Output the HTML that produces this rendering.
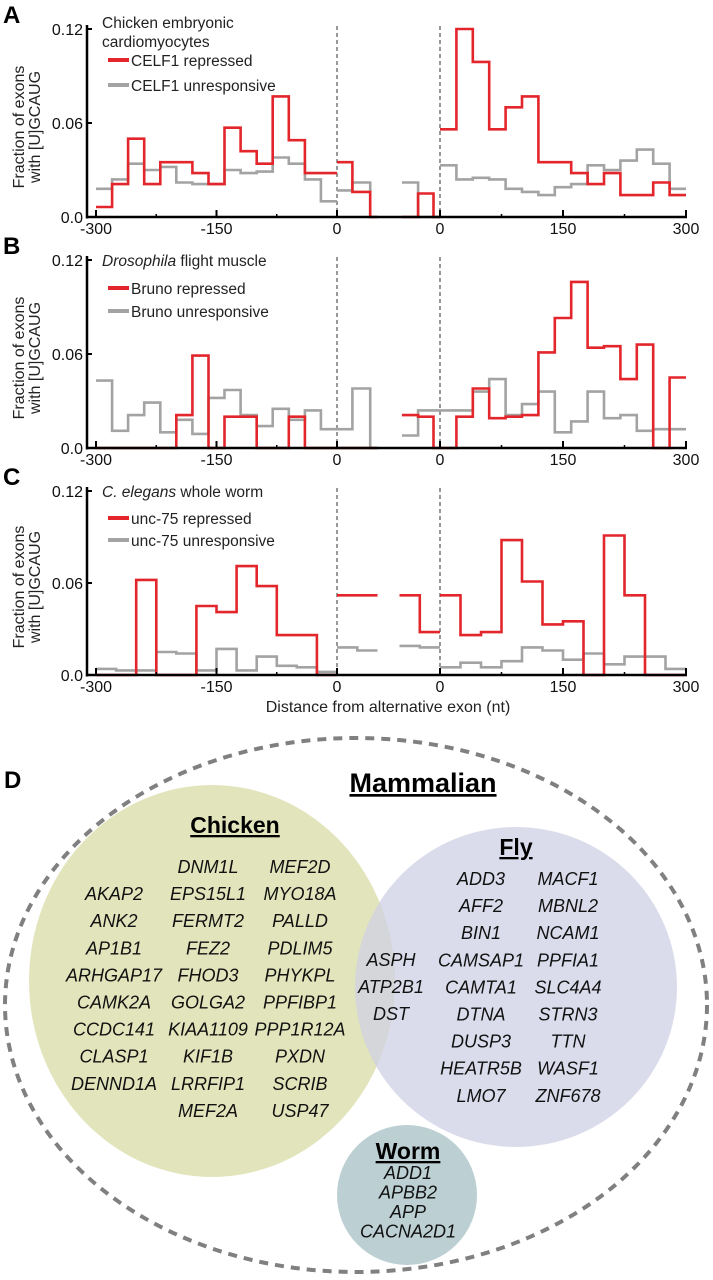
<!DOCTYPE html>
<html><head><meta charset="utf-8">
<style>
html,body{margin:0;padding:0;background:#fff;}
svg{display:block;font-family:"Liberation Sans",Arial,sans-serif;}
.tick{font-size:16px;fill:#111;}
.gene{font-size:18px;font-style:italic;fill:#111;}
.wgene{font-size:18px;font-style:italic;fill:#111;}
</style></head>
<body>
<svg id="fig" width="713" height="1280" viewBox="0 0 713 1280">
<g id="charts"></g>
<g id="venn">
  <ellipse cx="356" cy="1005" rx="351" ry="267" fill="none" stroke="#808080" stroke-width="4" stroke-dasharray="9,7"/>
  <ellipse cx="212" cy="981" rx="183" ry="196" fill="#dfe2b4" fill-opacity="0.9"/>
  <ellipse cx="516" cy="987" rx="161" ry="160" fill="#cfd0e4" fill-opacity="0.75"/>
  <ellipse cx="407" cy="1195" rx="70" ry="70" fill="#bccfd3"/>
  <text x="4" y="788" font-size="24" font-weight="bold">D</text>
  <text x="423" y="792" font-size="27" font-weight="bold" text-anchor="middle" text-decoration="underline">Mammalian</text>
  <text x="235" y="833" font-size="23" font-weight="bold" text-anchor="middle" text-decoration="underline">Chicken</text>
  <text x="516" y="855" font-size="23" font-weight="bold" text-anchor="middle" text-decoration="underline">Fly</text>
  <text x="408" y="1159" font-size="23" font-weight="bold" text-anchor="middle" text-decoration="underline">Worm</text>
  <g id="genes"></g>
</g>
</svg>
<script>
// ---------- chart data ----------
const edges20L = [-300,-280,-260,-240,-220,-200,-180,-160,-140,-120,-100,-80,-60,-40,-20,0];
const edges20R = [0,20,40,60,80,100,120,140,160,180,200,220,240,260,280,300];
const edges25L = [-300,-275,-250,-225,-200,-175,-150,-125,-100,-75,-50,-25,0];
const edges25R = [0,25,50,75,100,125,150,175,200,225,250,275,300];
const midLEdgesAB = [0,19,41,50];
const midREdgesAB = [-47,-27,-8,0];
const midLEdgesC = [0,25,50];
const midREdgesC = [-50,-25,0];
const yTicks = [0.0,0.06,0.12];
const yTickLabels = ["0.0","0.06","0.12"];
const xTicks = [-300,-150,0];
const xTicksR = [0,150,300];
const xTickLabels = ["-300","-150","0"];
const xTickLabelsR = ["0","150","300"];

const aRedL  = [0.0064,0.021,0.050,0.021,0.035,0.035,0.028,0.021,0.057,0.042,0.034,0.077,0.049,0.028,0.028];
const aGreyL = [0.018,0.024,0.034,0.030,0.032,0.022,0.021,0.021,0.030,0.028,0.029,0.038,0.034,0.024,0.010];
const aRedML = [0.035,0.016,0];
const aGreyML= [0.017,0.022,0];
const aRedMR = [0,0.015,0];
const aGreyMR= [0.022,0,0];
const aRedR  = [0.056,0.120,0.099,0.056,0.070,0.077,0.035,0.035,0.028,0.021,0.028,0.014,0.014,0.022,0.014];
const aGreyR = [0.033,0.024,0.025,0.024,0.018,0.016,0.014,0.019,0.021,0.033,0.030,0.036,0.043,0.034,0.018];

const bRedL  = [0,0,0,0,0,0.021,0.059,0,0.020,0.020,0,0,0.020,0,0];
const bGreyL = [0.043,0.011,0.021,0.029,0.010,0.018,0.009,0.032,0.037,0.021,0.014,0.025,0.018,0.024,0.012];
const bRedML = [0,0,0];
const bGreyML= [0.012,0.038,0];
const bRedMR = [0.021,0.020,0];
const bGreyMR= [0.008,0.024,0.024];
const bRedR  = [0,0.020,0.038,0.019,0.020,0.021,0.061,0.083,0.106,0.064,0.065,0.044,0.066,0,0.045];
const bGreyR = [0.024,0.024,0.036,0.044,0.021,0.028,0.036,0.010,0.017,0.036,0.019,0.021,0.011,0.012,0.012];

const cRedL  = [0,0,0.062,0,0,0.045,0.041,0.071,0.058,0.026,0.026,0];
const cGreyL = [0.004,0.003,0.003,0.015,0.014,0.003,0.017,0.003,0.012,0.006,0.005,0.002];
const cRedML = [0.052,0.052];
const cGreyML= [0.018,0.016];
const cRedMR = [0.052,0.028];
const cGreyMR= [0.019,0.018];
const cRedR  = [0.052,0.026,0.028,0.088,0.061,0.033,0.035,0,0.091,0.052,0,0];
const cGreyR = [0.005,0.008,0.005,0.009,0.018,0.016,0.010,0.014,0.007,0.012,0.012,0.004];

const NS = "http://www.w3.org/2000/svg";
const RED = "#e3262b", GREY = "#a3a3a3";
const root = document.getElementById('charts');
function mk(tag, attrs, parent){
  const e = document.createElementNS(NS, tag);
  for (const k in attrs) e.setAttribute(k, attrs[k]);
  (parent||root).appendChild(e);
  return e;
}
const YAX=87, X0=96, XL0=337, XR0=440, X1=686;
const xLeft = v => XL0 + v*(XL0-X0)/300;
const xMidL = v => XL0 + v*0.81;
const xMidR = v => XR0 + v*0.81;
const xRight = v => XR0 + v*(X1-XR0)/300;

function stepPath(edges, vals, xf, yf){
  let d = "", prev = null;
  for (let i=0;i<vals.length;i++){
    const v = vals[i];
    if (v===null){ prev=null; continue; }
    const xa = xf(edges[i]), xb = xf(edges[i+1]), y = yf(v);
    d += (prev===null ? "M" : "L")+xa.toFixed(1)+","+y.toFixed(1);
    d += "L"+xb.toFixed(1)+","+y.toFixed(1);
    prev = v;
  }
  return d;
}

const panels = [
  {key:'a', label:'A', y0:217, y12:29, e:[edges20L,midLEdgesAB,midREdgesAB,edges20R],
   red:[aRedL,aRedML,aRedMR,aRedR], grey:[aGreyL,aGreyML,aGreyMR,aGreyR],
   title:['Chicken embryonic','cardiomyocytes'], leg:['CELF1 repressed','CELF1 unresponsive'], titleY:28, legY:[60,85]},
  {key:'b', label:'B', y0:448, y12:260, e:[edges20L,midLEdgesAB,midREdgesAB,edges20R],
   red:[bRedL,bRedML,bRedMR,bRedR], grey:[bGreyL,bGreyML,bGreyMR,bGreyR],
   title:['<tspan font-style="italic">Drosophila</tspan> flight muscle'], leg:['Bruno repressed','Bruno unresponsive'], titleY:266, legY:[288,311]},
  {key:'c', label:'C', y0:675, y12:491, e:[edges25L,midLEdgesC,midREdgesC,edges25R],
   red:[cRedL,cRedML,cRedMR,cRedR], grey:[cGreyL,cGreyML,cGreyMR,cGreyR],
   title:['<tspan font-style="italic">C. elegans</tspan> whole worm'], leg:['unc-75 repressed','unc-75 unresponsive'], titleY:497, legY:[518,540]}
];
const xfs = [xLeft,xMidL,xMidR,xRight];

panels.forEach(p=>{
  const g = mk('g',{});
  
  
  const yf = v => p.y0 - v*(p.y0-p.y12)/0.12;
  const L = mk('text',{x:3,y:p.y12-6,'font-size':24,'font-weight':'bold'},g);
  L.textContent = p.label;
  
  
  const cy = (p.y0+p.y12)/2 + 4;
  const yt = mk('text',{transform:'translate(24,'+cy+') rotate(-90)','text-anchor':'middle','font-size':16,fill:'#222'},g);
  yt.innerHTML = '<tspan x="0" dy="0">Fraction of  exons</tspan><tspan x="0" dy="16">with [U]GCAUG</tspan>';
  
  
  [XL0,XR0].forEach(xx=>{
    const dl = mk('line',{x1:xx,x2:xx,y1:p.y12-3,y2:p.y0,stroke:'#333','stroke-width':1,'stroke-dasharray':'4,3'},g);
    
    
  });
  for (let s=0;s<4;s++){
    const gp = mk('path',{d:stepPath(p.e[s],p.grey[s],xfs[s],yf),fill:'none',stroke:GREY,'stroke-width':2.6},g);
    
    
  }
  for (let s=0;s<4;s++){
    const rp = mk('path',{d:stepPath(p.e[s],p.red[s],xfs[s],yf),fill:'none',stroke:RED,'stroke-width':2.6},g);
    
    
  }
  const ya = mk('line',{x1:YAX,x2:YAX,y1:p.y12-4,y2:p.y0+1.5,stroke:'#000','stroke-width':2.5},g);
  
  
  const xa = mk('line',{x1:YAX,x2:X1+1,y1:p.y0,y2:p.y0,stroke:'#000','stroke-width':2.5},g);
  
  
  yTicks.forEach((t,i)=>{
    const y = yf(t);
    mk('line',{x1:YAX,x2:YAX+5,y1:y,y2:y,stroke:'#000','stroke-width':2},g);
    const tl = mk('text',{x:YAX-4,y:y+6,'text-anchor':'end',class:'tick'},g);
    tl.textContent = yTickLabels[i];
    
    
  });
  const tickSet = [[xTicks,xTickLabels,xLeft],[xTicksR,xTickLabelsR,xRight]];
  tickSet.forEach(([ts,lbs,f])=>{
    ts.forEach((t,i)=>{
      const x = f(t);
      mk('line',{x1:x,x2:x,y1:p.y0-7,y2:p.y0,stroke:'#000','stroke-width':2},g);
      const tl = mk('text',{x:x,y:p.y0+17,'text-anchor':'middle',class:'tick'},g);
      tl.textContent = lbs[i];
      
      
    });
  });
  [-225,-75].forEach(t=>mk('line',{x1:xLeft(t),x2:xLeft(t),y1:p.y0-3,y2:p.y0,stroke:'#000','stroke-width':1.5},g));
  [75,225].forEach(t=>mk('line',{x1:xRight(t),x2:xRight(t),y1:p.y0-3,y2:p.y0,stroke:'#000','stroke-width':1.5},g));
  const lg = mk('g',{},g);
  
  
  p.title.forEach((t,i)=>{
    const tt = mk('text',{x:102,y:p.titleY+i*19,'font-size':15.5,fill:'#222'},lg);
    tt.innerHTML = t;
  });
  [RED,GREY].forEach((c,i)=>{
    const y = p.legY[i];
    mk('line',{x1:108,x2:129,y1:y,y2:y,stroke:c,'stroke-width':4},lg);
    const lt = mk('text',{x:131,y:y+6,'font-size':15.5,fill:'#222'},lg);
    lt.textContent = p.leg[i];
    
    
  });
});
const xt = mk('text',{x:388,y:712,'text-anchor':'middle','font-size':16,fill:'#222'});
xt.textContent = 'Distance from alternative exon (nt)';



// ---------- venn genes ----------
const chickenCol1 = ["","AKAP2","ANK2","AP1B1","ARHGAP17","CAMK2A","CCDC141","CLASP1","DENND1A"];
const chickenCol2 = ["DNM1L","EPS15L1","FERMT2","FEZ2","FHOD3","GOLGA2","KIAA1109","KIF1B","LRRFIP1","MEF2A"];
const chickenCol3 = ["MEF2D","MYO18A","PALLD","PDLIM5","PHYKPL","PPFIBP1","PPP1R12A","PXDN","SCRIB","USP47"];
const sharedGenes = ["ASPH","ATP2B1","DST"];
const flyCol1 = ["ADD3","AFF2","BIN1","CAMSAP1","CAMTA1","DTNA","DUSP3","HEATR5B","LMO7"];
const flyCol2 = ["MACF1","MBNL2","NCAM1","PPFIA1","SLC4A4","STRN3","TTN","WASF1","ZNF678"];
const wormGenes = ["ADD1","APBB2","APP","CACNA2D1"];
const gg = document.getElementById('genes');
function col(list, x, y0, dy, cls){
  list.forEach((n,i)=>{
    if(!n) return;
    const t = mk('text',{x:x,y:y0+i*dy,'text-anchor':'middle',class:cls||'gene'},gg);
    t.textContent = n;
    
    
  });
}
col(chickenCol1,114,873,27.1);
col(chickenCol2,208,873,27.1);
col(chickenCol3,300,873,27.1);
col(sharedGenes,391,966,27.1);
col(flyCol1,481,885,27.1);
col(flyCol2,568,885,27.1);
col(wormGenes,408,1179,19.5,'wgene');
</script>
</body></html>
